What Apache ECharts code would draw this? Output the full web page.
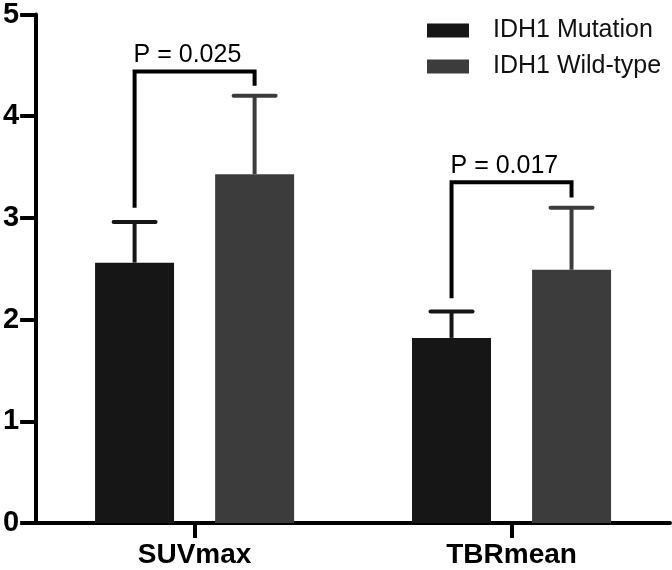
<!DOCTYPE html>
<html>
<head>
<meta charset="utf-8">
<script src="https://cdn.jsdelivr.net/npm/echarts@6/dist/echarts.min.js"></script>
<style>
  html, body { margin: 0; padding: 0; background: #fff; }
  #chart { width: 672px; height: 570px; }
</style>
</head>
<body>
<div id="chart"></div>
<script>
const categories = ['SUVmax', 'TBRmean'];
const seriesNames = ['IDH1 Mutation', 'IDH1 Wild-type'];
const mutationMean = [2.56, 1.82];
const mutationUpper = [2.96, 2.08];
const wildMean = [3.43, 2.49];
const wildUpper = [4.20, 3.10];
const pLabels = ['P = 0.025', 'P = 0.017'];
const bracketTop = [4.44, 3.35];
const bracketLeftEnd = [3.10, 2.21];
const bracketRightEnd = [4.30, 3.20];
const yTicks = [0, 1, 2, 3, 4, 5];

const FONT = "'Liberation Sans', Arial, Helvetica, sans-serif";
const C_MUT = '#161616';
const C_WILD = '#3c3c3c';
const BAR_OFFSET = 60; // half of (bar width + gap)

function errorSeries(mean, upper, offset, color) {
  return {
    type: 'custom',
    z: 5,
    silent: true,
    data: categories.map((c, i) => [i, mean[i], upper[i]]),
    renderItem: function (params, api) {
      const a = api.coord([api.value(0), api.value(1)]);
      const b = api.coord([api.value(0), api.value(2)]);
      const x = a[0] + offset;
      return {
        type: 'group',
        children: [
          { type: 'line', shape: { x1: x, y1: a[1], x2: x, y2: b[1] },
            style: { stroke: color, lineWidth: 4 } },
          { type: 'line', shape: { x1: x - 21, y1: b[1], x2: x + 21, y2: b[1] },
            style: { stroke: color, lineWidth: 4, lineCap: 'round' } }
        ]
      };
    }
  };
}

const chart = echarts.init(document.getElementById('chart'), null, { renderer: 'canvas' });
chart.setOption({
  backgroundColor: '#ffffff',
  animation: false,
  textStyle: { fontFamily: FONT },
  grid: { left: 34, right: 2, top: 12, bottom: 47, containLabel: false },
  legend: {
    data: seriesNames,
    orient: 'vertical',
    left: 422,
    top: 13,
    itemWidth: 42,
    itemHeight: 14,
    itemGap: 11,
    icon: 'rect',
    textStyle: { fontFamily: FONT, fontSize: 25, color: '#111', padding: [0, 0, 0, 19], lineHeight: 25 }
  },
  xAxis: {
    type: 'category',
    data: categories,
    axisLine: { show: true, lineStyle: { color: '#000', width: 4 } },
    axisTick: { show: true, alignWithLabel: true, length: 15, lineStyle: { color: '#000', width: 4 } },
    axisLabel: { fontFamily: FONT, fontSize: 28, fontWeight: 'bold', color: '#000', margin: 18 },
    splitLine: { show: false }
  },
  yAxis: {
    type: 'value',
    min: yTicks[0],
    max: yTicks[yTicks.length - 1],
    interval: 1,
    axisLine: { show: true, lineStyle: { color: '#000', width: 4 } },
    axisTick: { show: true, length: 16, lineStyle: { color: '#000', width: 4 } },
    axisLabel: { fontFamily: FONT, fontSize: 29, fontWeight: 'bold', color: '#000', margin: 17 },
    splitLine: { show: false }
  },
  series: [
    { name: seriesNames[0], type: 'bar', data: mutationMean, barWidth: 79, barGap: '52%',
      itemStyle: { color: C_MUT } },
    { name: seriesNames[1], type: 'bar', data: wildMean, barWidth: 79, barGap: '52%',
      itemStyle: { color: C_WILD } },
    errorSeries(mutationMean, mutationUpper, -BAR_OFFSET, C_MUT),
    errorSeries(wildMean, wildUpper, BAR_OFFSET, C_WILD),
    {
      type: 'custom',
      z: 6,
      silent: true,
      data: categories.map((c, i) => [i, bracketTop[i], bracketLeftEnd[i], bracketRightEnd[i]]),
      renderItem: function (params, api) {
        const i = api.value(0);
        const t = api.coord([i, api.value(1)]);
        const l = api.coord([i, api.value(2)]);
        const r = api.coord([i, api.value(3)]);
        const xl = t[0] - BAR_OFFSET;
        const xr = t[0] + BAR_OFFSET;
        return {
          type: 'group',
          children: [
            { type: 'polyline',
              shape: { points: [[xl, l[1]], [xl, t[1]], [xr, t[1]], [xr, r[1]]] },
              style: { stroke: '#000', lineWidth: 4, fill: null, lineJoin: 'miter' } },
            { type: 'text',
              style: { text: pLabels[params.dataIndex], x: xl - 1, y: t[1] - 16,
                       fill: '#000', font: '25px ' + FONT, align: 'left', verticalAlign: 'middle' } }
          ]
        };
      }
    }
  ]
});
</script>
</body>
</html>
